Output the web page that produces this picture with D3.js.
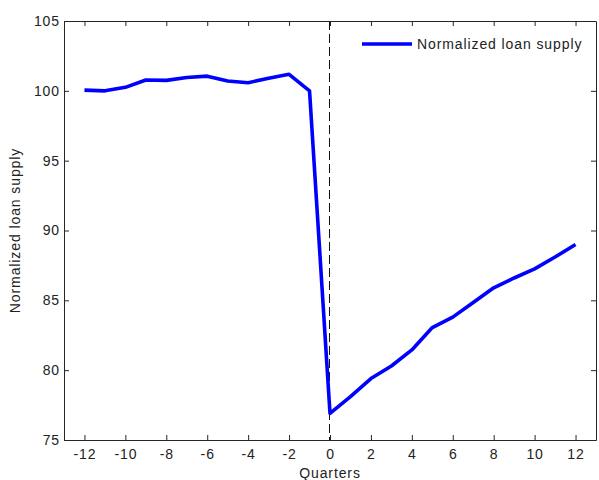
<!DOCTYPE html>
<html>
<head>
<meta charset="utf-8">
<script src="https://cdn.jsdelivr.net/npm/d3@7"></script>
<style>
  html, body { margin: 0; padding: 0; background: #fff; }
  svg { display: block; }
  text { font-family: "Liberation Sans", Arial, sans-serif; }
</style>
</head>
<body>
<script>
// Quarters relative to the shock and normalized loan supply
const quarters = [-12,-11,-10,-9,-8,-7,-6,-5,-4,-3,-2,-1,0,1,2,3,4,5,6,7,8,9,10,11,12];
const loanSupply = [100.05,100.0,100.25,100.78,100.75,100.95,101.05,100.7,100.58,100.9,101.18,100.0,
                    76.9,78.1,79.4,80.3,81.45,83.05,83.8,84.85,85.9,86.6,87.25,88.1,89.0];
const xTicks = [-12,-10,-8,-6,-4,-2,0,2,4,6,8,10,12];
const yTicks = [75,80,85,90,95,100,105];
const seriesName = "Normalized loan supply";

const W = 599, H = 480;
const m = { left: 64, right: 3, top: 21, bottom: 40 };

const svg = d3.select("body").append("svg").attr("width", W).attr("height", H);

const x = d3.scaleLinear().domain([-13, 13]).range([m.left, W - m.right]);
const y = d3.scaleLinear().domain([75, 105]).range([H - m.bottom, m.top]);

const axisColor = "#262626";
const tickLen = 5;
const plain = d => String(d);   // hyphen-minus labels

const textStyle = sel => sel
  .attr("fill", "#222")
  .style("font-size", "14px")
  .style("letter-spacing", "0.9px")
  .style("font-family", "'Liberation Sans', Arial, sans-serif");

// Bottom and left axes with inward ticks
const gx = svg.append("g").attr("transform", `translate(0,${y(75)})`)
  .call(d3.axisBottom(x).tickValues(xTicks).tickFormat(plain).tickSizeInner(-tickLen).tickSizeOuter(0).tickPadding(9));
const gy = svg.append("g").attr("transform", `translate(${x(-13)},0)`)
  .call(d3.axisLeft(y).tickValues(yTicks).tickFormat(plain).tickSizeInner(-tickLen).tickSizeOuter(0).tickPadding(4));
// Mirrored ticks on top and right
const gxt = svg.append("g").attr("transform", `translate(0,${y(105)})`)
  .call(d3.axisTop(x).tickValues(xTicks).tickSizeInner(-tickLen).tickSizeOuter(0).tickFormat(""));
const gyr = svg.append("g").attr("transform", `translate(${x(13)},0)`)
  .call(d3.axisRight(y).tickValues(yTicks).tickSizeInner(-tickLen).tickSizeOuter(0).tickFormat(""));

[gx, gy, gxt, gyr].forEach(g => {
  g.selectAll(".domain").attr("stroke", axisColor).attr("stroke-width", 1);
  g.selectAll(".tick line").attr("stroke", axisColor);
  g.selectAll(".tick text").call(textStyle);
});

// Shock marker at quarter 0
const x0 = Math.round(x(0)) - 0.5;
svg.append("line")
  .attr("x1", x0).attr("x2", x0)
  .attr("y1", y(105)).attr("y2", y(75))
  .attr("stroke", "#111").attr("stroke-width", 1)
  .attr("stroke-dasharray", "9,4");

// Data line
const line = d3.line().x((d, i) => x(quarters[i])).y(d => y(d));
svg.append("path")
  .datum(loanSupply)
  .attr("d", line)
  .attr("fill", "none")
  .attr("stroke", "#0000ff")
  .attr("stroke-width", 3.6)
  .attr("stroke-linejoin", "round");

// Legend
const lg = svg.append("g");
lg.append("line")
  .attr("x1", 362).attr("x2", 412).attr("y1", 44).attr("y2", 44)
  .attr("stroke", "#0000ff").attr("stroke-width", 3.6);
lg.append("text")
  .attr("x", 417).attr("y", 49)
  .call(textStyle)
  .text(seriesName);

// Axis titles
svg.append("text")
  .attr("x", (x(-13) + x(13)) / 2).attr("y", 478)
  .attr("text-anchor", "middle")
  .call(textStyle)
  .text("Quarters");
svg.append("text")
  .attr("transform", `translate(20,${(y(75) + y(105)) / 2}) rotate(-90)`)
  .attr("text-anchor", "middle")
  .call(textStyle)
  .text("Normalized loan supply");
</script>
</body>
</html>
